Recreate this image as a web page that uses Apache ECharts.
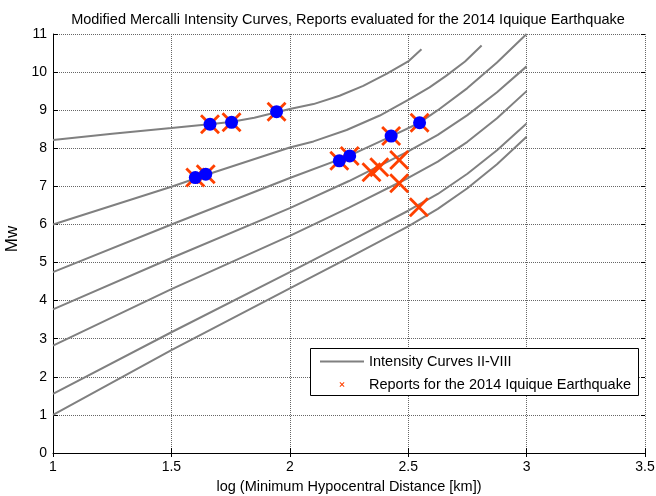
<!DOCTYPE html>
<html>
<head>
<meta charset="utf-8">
<script src="https://cdn.jsdelivr.net/npm/echarts@6/dist/echarts.min.js"></script>
<style>html,body{margin:0;padding:0;background:#fff}#c{width:656px;height:496px}</style>
</head>
<body>
<div id="c"></div>
<script>
// ---- data ----
const titleText = 'Modified Mercalli Intensity Curves, Reports evaluated for the 2014 Iquique Earthquake';
const xAxisName = 'log (Minimum Hypocentral Distance [km])';
const yAxisName = 'Mw';
const curveName = 'Intensity Curves II-VIII';
const reportName = 'Reports for the 2014 Iquique Earthquake';

const curveVIII = [[1,8.22],[1.25,8.38],[1.5,8.53],[1.66,8.63],[1.75,8.69],[1.85,8.80],[1.94,8.94],[2.0,9.03],[2.1,9.16],[2.21,9.38],[2.31,9.64],[2.41,9.96],[2.5,10.28],[2.556,10.6]];
const curveVII = [[1,6.0],[1.5,6.99],[1.645,7.3],[2.0,8.02],[2.1,8.18],[2.24,8.48],[2.38,8.86],[2.5,9.27],[2.59,9.6],[2.66,9.9],[2.74,10.28],[2.81,10.7]];
const curveVI = [[1,4.75],[1.5,6.0],[2.0,7.22],[2.25,7.80],[2.43,8.32],[2.548,8.67],[2.625,9.0],[2.75,9.58],[2.875,10.25],[3.0,11.0]];
const curveV = [[1,3.77],[1.5,5.12],[2.0,6.43],[2.25,7.14],[2.5,7.92],[2.625,8.35],[2.75,8.87],[2.875,9.47],[3.0,10.15]];
const curveIV = [[1,2.82],[1.5,4.30],[2.0,5.70],[2.25,6.44],[2.5,7.22],[2.625,7.65],[2.75,8.17],[2.875,8.79],[3.0,9.5]];
const curveIII = [[1,1.55],[1.5,3.17],[2.0,4.75],[2.25,5.55],[2.5,6.36],[2.625,6.80],[2.75,7.33],[2.875,7.95],[3.0,8.65]];
const curveII = [[1,1.0],[1.5,2.70],[2.0,4.32],[2.25,5.13],[2.5,5.95],[2.625,6.41],[2.75,6.95],[2.875,7.58],[3.0,8.3]];

const reportsX = [1.601,1.645,1.663,1.754,1.944,2.209,2.253,2.428,2.548,2.345,2.378,2.462,2.462,2.545];
const reportsY = [7.23,7.32,8.63,8.68,8.96,7.67,7.80,8.32,8.67,7.37,7.50,7.69,7.08,6.45];
const dotsX = [1.601,1.645,1.663,1.754,1.944,2.209,2.253,2.428,2.548];
const dotsY = [7.23,7.32,8.63,8.68,8.96,7.67,7.80,8.32,8.67];

// ---- chart ----
const FONT = 'Liberation Sans, Arial, Helvetica, sans-serif';
const xSym = 'path://M0 10L10 0L50 40L90 0L100 10L60 50L100 90L90 100L50 60L10 100L0 90L40 50Z';
const xLegend = 'path://M0 0M44 14M19.5 5.2L20.2 4.5L22 6.3L23.8 4.5L24.5 5.2L22.7 7L24.5 8.8L23.8 9.5L22 7.7L20.2 9.5L19.5 8.8L21.3 7Z';
const lineLegend = 'path://M0 0M44 14M0 6L44 6L44 8L0 8Z';
const gridLine = {show: true, lineStyle: {color: '#666', type: [1, 1], width: 1}};

const curves = [curveVIII, curveVII, curveVI, curveV, curveIV, curveIII, curveII];
const series = curves.map(c => ({
  type: 'line', name: curveName, data: c, symbol: 'none', showSymbol: false,
  lineStyle: {color: '#808080', width: 2}, itemStyle: {color: '#808080'}, z: 2, silent: true
}));
series.push({
  type: 'scatter', name: reportName, data: reportsX.map((x, i) => [x, reportsY[i]]),
  symbol: xSym, symbolSize: 20, itemStyle: {color: '#ff4000', opacity: 1}, z: 3, silent: true
});
series.push({
  type: 'scatter', name: 'dots', data: dotsX.map((x, i) => [x, dotsY[i]]),
  symbol: 'circle', symbolSize: 13, itemStyle: {color: '#0000ff', opacity: 1}, z: 4, silent: true
});

const chart = echarts.init(document.getElementById('c'));
chart.setOption({
  animation: false,
  backgroundColor: '#fff',
  title: {
    text: titleText, left: 348, top: 12, padding: 0, textAlign: 'center',
    textStyle: {fontFamily: FONT, fontSize: 14.5, fontWeight: 'normal', color: '#000'}
  },
  grid: {left: 53, right: 11, top: 34, bottom: 43, containLabel: false, outerBoundsMode: 'none'},
  xAxis: [{
    type: 'value', min: 1, max: 3.5, interval: 0.5, position: 'bottom',
    name: xAxisName, nameLocation: 'middle', nameGap: 26,
    nameTextStyle: {fontFamily: FONT, fontSize: 14.5, color: '#000'},
    axisLine: {show: true, lineStyle: {color: '#000', width: 1}},
    axisTick: {show: true, inside: true, length: 5, lineStyle: {color: '#000'}},
    axisLabel: {fontFamily: FONT, fontSize: 14, color: '#000', margin: 7},
    splitLine: gridLine
  }, {
    type: 'value', min: 1, max: 3.5, interval: 0.5, position: 'top',
    axisLine: {show: false}, axisTick: {show: true, inside: true, length: 4, lineStyle: {color: '#000'}},
    axisLabel: {show: false}, splitLine: {show: false}
  }],
  yAxis: [{
    type: 'value', min: 0, max: 11, interval: 1, position: 'left',
    name: yAxisName, nameLocation: 'middle', nameGap: 28, nameRotate: 90,
    nameTextStyle: {fontFamily: FONT, fontSize: 17, color: '#000', padding: [0, 0, 0, 9]},
    axisLine: {show: true, lineStyle: {color: '#000', width: 1}},
    axisTick: {show: true, inside: true, length: 5, lineStyle: {color: '#000'}},
    axisLabel: {fontFamily: FONT, fontSize: 14, color: '#000', margin: 6},
    splitLine: gridLine
  }, {
    type: 'value', min: 0, max: 11, interval: 1, position: 'right',
    axisLine: {show: false}, axisTick: {show: true, inside: true, length: 4, lineStyle: {color: '#000'}},
    axisLabel: {show: false}, splitLine: {show: false}
  }],
  legend: {
    data: [{name: curveName, icon: lineLegend}, {name: reportName, icon: xLegend}],
    orient: 'vertical', left: 320, top: 354, padding: 0,
    itemWidth: 44, itemHeight: 14, itemGap: 8, selectedMode: false, z: 20,
    textStyle: {fontFamily: FONT, fontSize: 14.5, color: '#000'}
  },
  graphic: [{
    type: 'rect', z: 10, silent: true,
    shape: {x: 310.5, y: 348.5, width: 328, height: 47},
    style: {fill: '#fff', stroke: '#000', lineWidth: 1}
  }],
  series: series
});
</script>
</body>
</html>
